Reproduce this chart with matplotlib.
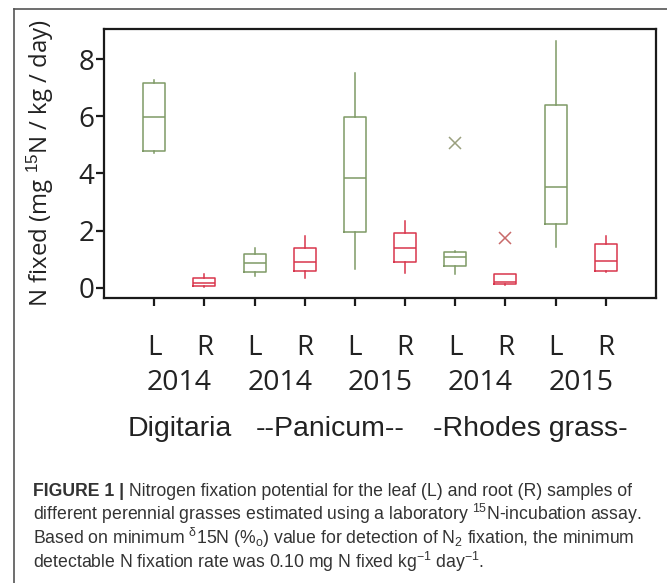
import matplotlib
matplotlib.use("Agg")
import matplotlib.pyplot as plt
from matplotlib.transforms import blended_transform_factory

# ---- data: N fixation box statistics (mg 15N / kg / day) ----
tissue = ["L", "R", "L", "R", "L", "R", "L", "R", "L", "R"]
years = ["2014", "2014", "2015", "2014", "2015"]
grasses = ["Digitaria", "--Panicum--", "-Rhodes grass-"]
whisker_low = [4.71, 0.03, 0.41, 0.33, 0.64, 0.50, 0.48, 0.10, 1.44, 0.55]
quart1 = [4.79, 0.06, 0.56, 0.60, 1.94, 0.91, 0.76, 0.12, 2.23, 0.60]
median = [5.97, 0.18, 0.88, 0.91, 3.83, 1.38, 1.09, 0.21, 3.54, 0.95]
quart3 = [7.16, 0.33, 1.18, 1.38, 5.97, 1.90, 1.26, 0.48, 6.40, 1.53]
whisker_high = [7.27, 0.47, 1.38, 1.81, 7.51, 2.34, 1.30, 0.48, 8.65, 1.81]
outliers = [[], [], [], [], [], [], [5.08], [1.73], [], []]

GREEN = "#7e9a66"
RED = "#d8354c"
FLIER_GREEN = "#9aa07e"
FLIER_RED = "#c86a6a"

tick_font = ["Open Sans", "DejaVu Sans"]
label_font = ["Liberation Sans", "DejaVu Sans"]
cap_font = ["Liberation Sans", "DejaVu Sans"]

plt.rcParams["mathtext.fontset"] = "custom"
plt.rcParams["mathtext.rm"] = "Liberation Sans"
plt.rcParams["mathtext.it"] = "Liberation Sans:italic"

fig = plt.figure(figsize=(6.67, 5.83), dpi=100)
W, H = 667, 583
ax = fig.add_axes([104 / W, 1 - 298 / H, (656 - 104) / W, (298 - 29) / H])

stats = []
for i in range(len(tissue)):
    stats.append(dict(whislo=whisker_low[i], q1=quart1[i], med=median[i],
                      q3=quart3[i], whishi=whisker_high[i], fliers=outliers[i]))

positions = list(range(1, len(tissue) + 1))
for pos, st, t in zip(positions, stats, tissue):
    c = GREEN if t == "L" else RED
    fc = FLIER_GREEN if t == "L" else FLIER_RED
    ax.bxp([st], positions=[pos], widths=0.44, showcaps=False,
           boxprops=dict(color=c, linewidth=1.1),
           medianprops=dict(color=c, linewidth=1.1),
           whiskerprops=dict(color=c, linewidth=1.1),
           flierprops=dict(marker="x", markeredgecolor=fc, markersize=9,
                           markeredgewidth=1.1, linestyle="none"))

ax.set_xlim(0, 11)
ax.set_ylim(-0.36, 9.06)
ax.set_yticks([0, 2, 4, 6, 8])
ax.set_xticks(positions)
ax.set_xticklabels(tissue)
for sp in ax.spines.values():
    sp.set_linewidth(1.6)
    sp.set_color("#1a1a1a")
ax.tick_params(axis="both", direction="out", length=6, width=1.6,
               colors="#1a1a1a", labelsize=20, labelcolor="#222222")
ax.tick_params(axis="y", pad=1)
ax.tick_params(axis="x", pad=20)
for lab in ax.get_xticklabels() + ax.get_yticklabels():
    lab.set_family(tick_font)

ax.set_ylabel(r"N fixed (mg $^{15}$N / kg / day)", fontsize=17.3,
              family=tick_font, color="#222222")
ax.yaxis.set_label_coords((56 - 104) / (656 - 104), 0.5)

tr = blended_transform_factory(ax.transData, fig.transFigure)
for k, yr in enumerate(years):
    xc = 2 * k + 1.5
    ax.text(xc, 1 - 383 / H, yr, transform=tr, ha="center", va="center",
            fontsize=20.5, family=tick_font, color="#222222")
group_x = [1.5, 4.5, 8.5]
for xc, g in zip(group_x, grasses):
    ax.text(xc, 1 - 429 / H, g, transform=tr, ha="center", va="center",
            fontsize=20.5, family=label_font, color="#222222")

# panel frame lines
fig.add_artist(plt.Line2D([14 / W, 14 / W], [0, 1 - 9 / H],
                          transform=fig.transFigure, color="#555555", lw=1.2))
fig.add_artist(plt.Line2D([14 / W, 1], [1 - 9 / H, 1 - 9 / H],
                          transform=fig.transFigure, color="#555555", lw=1.2))

# caption
cap_kw = dict(fontsize=12.7, family=cap_font, color="#333333")
base = [496, 520, 544, 568]
t1 = fig.text(33 / W, 1 - base[0] / H, "FIGURE 1 |", fontweight="bold",
              va="baseline", **cap_kw)
ax.annotate(" Nitrogen fixation potential for the leaf (L) and root (R) samples of",
            xy=(1, 0), xycoords=t1, va="bottom", annotation_clip=False, **cap_kw)
fig.text(33 / W, 1 - base[1] / H,
         r"different perennial grasses estimated using a laboratory $^{15}$N-incubation assay.",
         va="baseline", **cap_kw)
fig.text(33 / W, 1 - base[2] / H,
         r"Based on minimum $^{\mathrm{δ}}$15N (%$_{\mathrm{o}}$) value for detection of N$_{2}$ fixation, the minimum",
         va="baseline", **cap_kw)
fig.text(33 / W, 1 - base[3] / H,
         r"detectable N fixation rate was 0.10 mg N fixed kg$^{-1}$ day$^{-1}$.",
         va="baseline", **cap_kw)

fig.savefig("out.png", dpi=100)
